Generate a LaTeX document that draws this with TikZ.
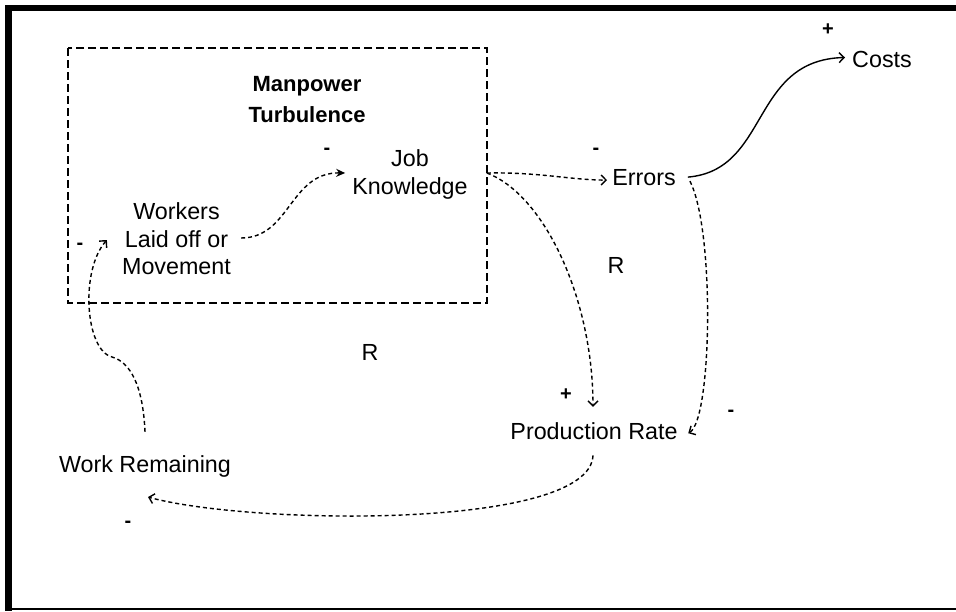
\documentclass[tikz,border=0pt]{standalone}
\usepackage{fontspec}
\setmainfont{Liberation Sans}
\usetikzlibrary{arrows.meta,calc}

\begin{document}
\begin{tikzpicture}[x=1pt,y=-1pt,
  lbl/.style={font=\fontsize{23.3}{27.5}\selectfont, align=center, inner sep=0pt},
  title/.style={font=\bfseries\fontsize{22}{31}\selectfont, align=center, inner sep=0pt},
  sgn/.style={font=\bfseries\fontsize{20}{20}\selectfont, inner sep=0pt},
  barb/.tip={Straight Barb[length=5pt,width=10pt]},
  link/.style={line width=1.4pt, dash pattern=on 4pt off 3pt, -barb},
  solidlink/.style={line width=1.4pt, -barb},
  group/.style={line width=1.8pt, dash pattern=on 8pt off 4pt}]

\useasboundingbox (0,0) rectangle (956,611);

% outer frame
\fill[black] (5,5) rectangle (956,11);
\fill[black] (5,5) rectangle (12,611);
\fill[black] (5,607.5) rectangle (956,610);

% sector boundary
\draw[group] (68,48) rectangle (487,303);
\node[title] (mt) at (307,100) {Manpower\\Turbulence};

% variables
\node[lbl] (wk) at (176.5,239) {Workers\\Laid off or\\Movement};
\node[lbl] (jk) at (410,174.5) {Job\\Knowledge};
\node[lbl, anchor=base] (er) at (644,185) {Errors};
\node[lbl, anchor=base] (co) at (882,67) {Costs};
\node[lbl, anchor=base] (pr) at (594,439) {Production Rate};
\node[lbl, anchor=base] (wr) at (145,472) {Work Remaining};

% loop markers
\node[lbl] (r1) at (616,265) {R};
\node[lbl] (r2) at (370,352) {R};

% causal links
\draw[line width=1.4pt, dash pattern=on 4pt off 3pt, -{Stealth[length=9pt,width=8pt]}]
  ($(wk.east)+(10,-1)$) .. controls (290,238) and (290,172) .. ($(jk.west)+(-7,-1.5)$);
\draw[link] ($(jk.east)+(19,-1.5)$) .. controls (540,172) and (570,180) .. ($(er.west)+(-5,3)$);
\draw[link] ($(jk.east)+(19,-1.5)$) .. controls (545,195) and (593,300) .. ($(pr.north)+(-1,-15)$);
\draw[solidlink] ($(er.east)+(12,0)$) .. controls (770,170) and (750,60) .. ($(co.west)+(-7,-1.5)$);
\draw[link] ($(er.east)+(14,4)$) .. controls (715,230) and (712,420) .. ($(pr.east)+(10.5,2.5)$);
\draw[link] ($(pr.south)+(-1,16)$) .. controls (590,530) and (250,525) .. ($(wr.south)+(3,20)$);
\draw[link] ($(wr.north)+(0,-23)$) .. controls (143,385) and (130,362) .. (112,357)
  .. controls (85,350) and (80,270) .. ($(wk.west)+(-15,1)$);

% polarities
\node[sgn] (s1) at (828,30) {+};
\node[sgn] (s2) at (327,151) {-};
\node[sgn] (s3) at (596,151) {-};
\node[sgn] (s4) at (80,246) {-};
\node[sgn] (s5) at (566,395) {+};
\node[sgn] (s6) at (731,413) {-};
\node[sgn] (s7) at (128,524) {-};
\end{tikzpicture}
\end{document}
